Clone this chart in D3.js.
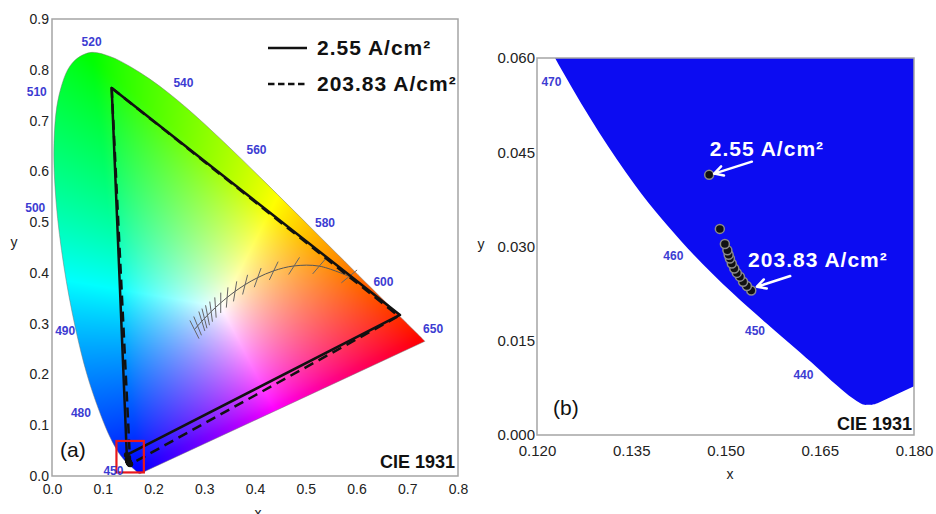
<!DOCTYPE html>
<html>
<head>
<meta charset="utf-8">
<script src="https://cdn.jsdelivr.net/npm/d3@7"></script>
<style>
  body { margin: 0; background: #fff; }
  text { font-family: "Liberation Sans", Arial, sans-serif; }
</style>
</head>
<body>
<svg id="chart" width="936" height="514"></svg>
<script>
// CIE 1931 spectral locus (nm, x, y)
var locusNm = [380, 385, 390, 395, 400, 405, 410, 415, 420, 425, 430, 435, 440, 445, 450, 455, 460, 465, 470, 475,
  480, 485, 490, 495, 500, 505, 510, 515, 520, 525, 530, 535, 540, 545, 550, 555, 560, 565, 570, 575,
  580, 585, 590, 595, 600, 605, 610, 615, 620, 625, 630, 635, 640, 645, 650, 655, 660, 665, 670, 680, 700];
var locusX = [0.1741, 0.1740, 0.1738, 0.1736, 0.1733, 0.1730, 0.1726, 0.1721, 0.1714, 0.1703, 0.1689, 0.1669, 0.1644, 0.1611, 0.1566, 0.1510, 0.1440, 0.1355, 0.1241, 0.1096,
  0.0913, 0.0687, 0.0454, 0.0235, 0.0082, 0.0039, 0.0139, 0.0389, 0.0743, 0.1142, 0.1547, 0.1929, 0.2296, 0.2658, 0.3016, 0.3373, 0.3731, 0.4087, 0.4441, 0.4788,
  0.5125, 0.5448, 0.5752, 0.6029, 0.6270, 0.6482, 0.6658, 0.6801, 0.6915, 0.7006, 0.7079, 0.7140, 0.7190, 0.7230, 0.7260, 0.7283, 0.7300, 0.7311, 0.7320, 0.7334, 0.7347];
var locusY = [0.0050, 0.0050, 0.0049, 0.0049, 0.0048, 0.0048, 0.0048, 0.0048, 0.0051, 0.0058, 0.0069, 0.0086, 0.0109, 0.0138, 0.0177, 0.0227, 0.0297, 0.0399, 0.0578, 0.0868,
  0.1327, 0.2007, 0.2950, 0.4127, 0.5384, 0.6548, 0.7502, 0.8120, 0.8338, 0.8262, 0.8059, 0.7816, 0.7543, 0.7243, 0.6923, 0.6589, 0.6245, 0.5896, 0.5547, 0.5202,
  0.4866, 0.4544, 0.4242, 0.3965, 0.3725, 0.3514, 0.3340, 0.3197, 0.3083, 0.2993, 0.2920, 0.2859, 0.2809, 0.2770, 0.2740, 0.2717, 0.2700, 0.2689, 0.2680, 0.2666, 0.2653];

// Planckian locus, temperatures in K
var planckT = [10000, 9000, 8000, 7500, 7000, 6500, 6000, 5500, 5000, 4500, 4000, 3500, 3000, 2500, 2000, 1500];
var planckX = [0.2807, 0.2869, 0.2952, 0.3004, 0.3064, 0.3135, 0.3221, 0.3325, 0.3451, 0.3608, 0.3805, 0.4053, 0.4369, 0.4770, 0.5267, 0.5857];
var planckY = [0.2884, 0.2956, 0.3048, 0.3103, 0.3166, 0.3237, 0.3318, 0.3411, 0.3516, 0.3636, 0.3768, 0.3907, 0.4041, 0.4137, 0.4133, 0.3931];
var isoCenter = [0.3320, 0.1858]; // McCamy epicenter

// wavelength labels: nm, label x, label y
var labelsA = [[520, 0.078, 0.856], [540, 0.259, 0.774], [560, 0.403, 0.642], [580, 0.538, 0.499], [600, 0.653, 0.383],
  [650, 0.751, 0.289], [510, -0.030, 0.756], [500, -0.033, 0.529], [490, 0.026, 0.286], [480, 0.057, 0.125], [450, 0.121, 0.010]];
var labelsB = [[470, 0.1223, 0.0562], [460, 0.1417, 0.0285], [450, 0.1547, 0.0166], [440, 0.1624, 0.0096]];

// gamut triangles (green, red, blue corner)
var gamutLow = [[0.1176, 0.764], [0.6857, 0.3172], [0.1474, 0.0414]];
var gamutHigh = [[0.1176, 0.764], [0.6830, 0.3150], [0.1541, 0.0230]];

// blue chromaticity with rising current density, 2.55 -> 203.83 A/cm2
var blueX = [0.1474, 0.1491, 0.1499, 0.1503, 0.1505, 0.1507, 0.1510, 0.1514, 0.1518, 0.1523, 0.1528, 0.1534, 0.1541];
var blueY = [0.0414, 0.0328, 0.0304, 0.0294, 0.0287, 0.0281, 0.0273, 0.0265, 0.0258, 0.0252, 0.0244, 0.0237, 0.0230];

var legendLabels = ["2.55 A/cm\u00b2", "203.83 A/cm\u00b2"];
var ticksA_x = [0, 0.1, 0.2, 0.3, 0.4, 0.5, 0.6, 0.7, 0.8];
var ticksA_y = [0, 0.1, 0.2, 0.3, 0.4, 0.5, 0.6, 0.7, 0.8, 0.9];
var ticksB_x = [0.120, 0.135, 0.150, 0.165, 0.180];
var ticksB_y = [0, 0.015, 0.030, 0.045, 0.060];

// primaries used to paint the diagram (red, green, blue corners of the locus)
var paintPrimaries = [[0.7347, 0.2653], [0.0743, 0.8338], [0.1666, 0.0089]];

var svg = d3.select("#chart");
var font = "'Liberation Sans', Arial, sans-serif";

// scales
var xA = d3.scaleLinear().domain([0, 0.8]).range([52, 458]);
var yA = d3.scaleLinear().domain([0, 0.9]).range([476, 19]);
var xB = d3.scaleLinear().domain([0.12, 0.18]).range([537, 914]);
var yB = d3.scaleLinear().domain([0, 0.06]).range([435, 58]);

var locus = locusX.map(function (d, i) { return [d, locusY[i]]; });

function locusPath(xs, ys) {
  return d3.line().curve(d3.curveCatmullRom.alpha(0.5))
    .x(function (d) { return xs(d[0]); }).y(function (d) { return ys(d[1]); })(locus) + "Z";
}

// 3x3 inverse
function inv3(m) {
  var a = m[0][0], b = m[0][1], c = m[0][2], d = m[1][0], e = m[1][1], f = m[1][2], g = m[2][0], h = m[2][1], k = m[2][2];
  var A = e * k - f * h, B = -(d * k - f * g), C = d * h - e * g;
  var det = a * A + b * B + c * C;
  return [[A / det, -(b * k - c * h) / det, (b * f - c * e) / det],
          [B / det, (a * k - c * g) / det, -(a * f - c * d) / det],
          [C / det, -(a * h - b * g) / det, (a * e - b * d) / det]];
}
function mul(m, v) {
  return [m[0][0] * v[0] + m[0][1] * v[1] + m[0][2] * v[2],
          m[1][0] * v[0] + m[1][1] * v[1] + m[1][2] * v[2],
          m[2][0] * v[0] + m[2][1] * v[1] + m[2][2] * v[2]];
}
// RGB->XYZ for the painting primaries, white point E
var P = [0, 1, 2].map(function (r) {
  return paintPrimaries.map(function (p) { return [p[0] / p[1], 1, (1 - p[0] - p[1]) / p[1]][r]; });
});
var S = mul(inv3(P), [1, 1, 1]);
var toRgb = inv3(P.map(function (row) { return row.map(function (v, i) { return v * S[i]; }); }));

function xyToRgb(x, y) {
  var c = mul(toRgb, [x / y, 1, (1 - x - y) / y]).map(function (v) { return Math.max(v, 0); });
  var m = Math.max(c[0], c[1], c[2]);
  return c.map(function (v) {
    v = Math.pow(v / m, 1.6);
    v = v <= 0.0031308 ? 12.92 * v : 1.055 * Math.pow(v, 1 / 2.4) - 0.055;
    return Math.round(Math.min(1, v) * 255);
  });
}

var defs = svg.append("defs");
defs.append("clipPath").attr("id", "clipLocusA").append("path").attr("d", locusPath(xA, yA));
defs.append("clipPath").attr("id", "clipBoxB").append("rect")
  .attr("x", xB.range()[0]).attr("y", yB.range()[1])
  .attr("width", xB.range()[1] - xB.range()[0]).attr("height", yB.range()[0] - yB.range()[1]);

// ---------- panel (a) ----------
var gA = svg.append("g");

// colour fill made on a canvas, clipped to the locus
var cw = Math.round(xA.range()[1] - xA.range()[0]);
var ch = Math.round(yA.range()[0] - yA.range()[1]);
var canvas = document.createElement("canvas");
canvas.width = cw; canvas.height = ch;
var ctx = canvas.getContext("2d");
var img = ctx.createImageData(cw, ch);
for (var j = 0; j < ch; j++) {
  for (var i = 0; i < cw; i++) {
    var cx = xA.invert(xA.range()[0] + i + 0.5);
    var cy = yA.invert(yA.range()[1] + j + 0.5);
    var k = (j * cw + i) * 4;
    if (cy <= 0.001) { img.data[k + 3] = 0; continue; }
    var c = xyToRgb(cx, cy);
    img.data[k] = c[0]; img.data[k + 1] = c[1]; img.data[k + 2] = c[2]; img.data[k + 3] = 255;
  }
}
ctx.putImageData(img, 0, 0);

gA.append("image")
  .attr("href", canvas.toDataURL())
  .attr("x", xA.range()[0]).attr("y", yA.range()[1])
  .attr("width", cw).attr("height", ch)
  .attr("clip-path", "url(#clipLocusA)");

gA.append("path")
  .attr("d", locusPath(xA, yA))
  .attr("fill", "none").attr("stroke", "#777").attr("stroke-width", 0.5);

// Planckian locus and isotherm ticks
var planck = planckX.map(function (d, i) { return [d, planckY[i]]; });
gA.append("path")
  .attr("d", d3.line().curve(d3.curveCatmullRom).x(function (d) { return xA(d[0]); }).y(function (d) { return yA(d[1]); })(planck))
  .attr("fill", "none").attr("stroke", "#555").attr("stroke-width", 1);

gA.selectAll(".iso").data(planck).enter().append("line")
  .attr("class", "iso")
  .each(function (d) {
    var dx = isoCenter[0] - d[0], dy = isoCenter[1] - d[1];
    var len = Math.sqrt(dx * dx + dy * dy), h = 0.02;
    d3.select(this)
      .attr("x1", xA(d[0] - dx / len * h)).attr("y1", yA(d[1] - dy / len * h))
      .attr("x2", xA(d[0] + dx / len * h)).attr("y2", yA(d[1] + dy / len * h));
  })
  .attr("stroke", "#666").attr("stroke-width", 1);

// gamut triangles
var triLine = d3.line().x(function (d) { return xA(d[0]); }).y(function (d) { return yA(d[1]); });
gA.append("path").attr("d", triLine(gamutHigh) + "Z")
  .attr("fill", "none").attr("stroke", "#111").attr("stroke-width", 2.5)
  .attr("stroke-dasharray", "10,6").attr("stroke-linejoin", "round");
gA.append("path").attr("d", triLine(gamutLow) + "Z")
  .attr("fill", "none").attr("stroke", "#111").attr("stroke-width", 2.5).attr("stroke-linejoin", "round");

gA.selectAll(".ptA").data(blueX).enter().append("circle")
  .attr("cx", function (d) { return xA(d); })
  .attr("cy", function (d, i) { return yA(blueY[i]); })
  .attr("r", 3).attr("fill", "#111");

// zoom box
gA.append("rect")
  .attr("x", xA(0.127)).attr("y", yA(0.069))
  .attr("width", xA(0.181) - xA(0.127)).attr("height", yA(0.007) - yA(0.069))
  .attr("fill", "none").attr("stroke", "#e8191c").attr("stroke-width", 2.2);

// wavelength labels
gA.selectAll(".wlA").data(labelsA).enter().append("text")
  .attr("x", function (d) { return xA(d[1]); })
  .attr("y", function (d) { return yA(d[2]); })
  .attr("dy", "0.35em").attr("text-anchor", "middle")
  .attr("font-size", 12).attr("font-weight", "bold").attr("fill", "#3c3cd2")
  .text(function (d) { return d[0]; });

// legend
var legend = gA.append("g");
legendLabels.forEach(function (t, i) {
  var ly = 48 + i * 36;
  legend.append("line").attr("x1", 268).attr("x2", 307).attr("y1", ly).attr("y2", ly)
    .attr("stroke", "#111").attr("stroke-width", 2.5)
    .attr("stroke-dasharray", i === 1 ? "6.5,3.5" : null);
  legend.append("text").attr("x", 317).attr("y", ly + 7)
    .attr("font-size", 21).attr("font-weight", "bold").attr("letter-spacing", 1)
    .attr("fill", "#111").text(t);
});

gA.append("text").attr("x", 60).attr("y", 457).attr("font-size", 21).attr("fill", "#111").text("(a)");
gA.append("text").attr("x", 455).attr("y", 468).attr("text-anchor", "end")
  .attr("font-size", 18).attr("font-weight", "bold").attr("fill", "#111").text("CIE 1931");

// frame and axes
gA.append("rect").attr("x", 52).attr("y", 19).attr("width", 406).attr("height", 457)
  .attr("fill", "none").attr("stroke", "#a5a5a5").attr("stroke-width", 1.5);

var axA_x = gA.append("g").attr("transform", "translate(0,476)")
  .call(d3.axisBottom(xA).tickValues(ticksA_x).tickFormat(d3.format(".1f")).tickSize(0).tickPadding(8));
var axA_y = gA.append("g").attr("transform", "translate(52,0)")
  .call(d3.axisLeft(yA).tickValues(ticksA_y).tickFormat(d3.format(".1f")).tickSize(0).tickPadding(3));
[axA_x, axA_y].forEach(function (a) {
  a.select(".domain").remove();
  a.selectAll("text").attr("font-size", 14).attr("font-family", font).attr("fill", "#222");
});
gA.append("text").attr("x", 14).attr("y", 247).attr("text-anchor", "middle").attr("font-size", 14).attr("fill", "#222").text("y");
gA.append("text").attr("x", 258).attr("y", 518).attr("text-anchor", "middle").attr("font-size", 14).attr("fill", "#222").text("x");

// ---------- panel (b) ----------
var gB = svg.append("g");
gB.append("g").attr("clip-path", "url(#clipBoxB)")
  .append("path").attr("d", locusPath(xB, yB)).attr("fill", "#0c0cf2");

gB.selectAll(".wlB").data(labelsB).enter().append("text")
  .attr("x", function (d) { return xB(d[1]); })
  .attr("y", function (d) { return yB(d[2]); })
  .attr("dy", "0.35em").attr("text-anchor", "middle")
  .attr("font-size", 12).attr("font-weight", "bold").attr("fill", "#3c3cd2")
  .text(function (d) { return d[0]; });

// points, drawn from high current back to low
var pts = blueX.map(function (d, i) { return [d, blueY[i]]; });
gB.selectAll(".ptB").data(pts.slice().reverse()).enter().append("circle")
  .attr("cx", function (d) { return xB(d[0]); })
  .attr("cy", function (d) { return yB(d[1]); })
  .attr("r", 4.5).attr("fill", "#111").attr("stroke", "#8a8a8a").attr("stroke-width", 1.5);

// arrows and labels
var arrowsB = [[0.1542, 0.0435, 0.1482, 0.0416], [0.1603, 0.0253, 0.1550, 0.0236]];
var annotB = [[0.1475, 0.0444], [0.1536, 0.0267]];
arrowsB.forEach(function (a) {
  var x1 = xB(a[0]), y1 = yB(a[1]), x2 = xB(a[2]), y2 = yB(a[3]);
  var ang = Math.atan2(y2 - y1, x2 - x1), hl = 10;
  var p = "M" + x1 + "," + y1 + "L" + x2 + "," + y2 +
    "M" + (x2 - hl * Math.cos(ang - 0.5)) + "," + (y2 - hl * Math.sin(ang - 0.5)) +
    "L" + x2 + "," + y2 +
    "L" + (x2 - hl * Math.cos(ang + 0.5)) + "," + (y2 - hl * Math.sin(ang + 0.5));
  gB.append("path").attr("d", p).attr("fill", "none").attr("stroke", "#fff")
    .attr("stroke-width", 2.5).attr("stroke-linecap", "round").attr("stroke-linejoin", "round");
});
gB.selectAll(".annB").data(annotB).enter().append("text")
  .attr("x", function (d) { return xB(d[0]); })
  .attr("y", function (d) { return yB(d[1]); })
  .attr("font-size", 21).attr("font-weight", "bold").attr("letter-spacing", 1).attr("fill", "#fff")
  .text(function (d, i) { return legendLabels[i]; });

gB.append("text").attr("x", 553).attr("y", 415).attr("font-size", 21).attr("fill", "#111").text("(b)");
gB.append("text").attr("x", 912).attr("y", 430).attr("text-anchor", "end")
  .attr("font-size", 18).attr("font-weight", "bold").attr("fill", "#111").text("CIE 1931");

gB.append("rect").attr("x", 537).attr("y", 58).attr("width", 377).attr("height", 377)
  .attr("fill", "none").attr("stroke", "#a5a5a5").attr("stroke-width", 1.5);

var axB_x = gB.append("g").attr("transform", "translate(0,435)")
  .call(d3.axisBottom(xB).tickValues(ticksB_x).tickFormat(d3.format(".3f")).tickSize(0).tickPadding(10));
var axB_y = gB.append("g").attr("transform", "translate(537,0)")
  .call(d3.axisLeft(yB).tickValues(ticksB_y).tickFormat(d3.format(".3f")).tickSize(0).tickPadding(2));
[axB_x, axB_y].forEach(function (a) {
  a.select(".domain").remove();
  a.selectAll("text").attr("font-size", 15).attr("font-family", font).attr("fill", "#222");
});
gB.append("text").attr("x", 481).attr("y", 249).attr("text-anchor", "middle").attr("font-size", 14).attr("fill", "#222").text("y");
gB.append("text").attr("x", 730).attr("y", 479).attr("text-anchor", "middle").attr("font-size", 14).attr("fill", "#222").text("x");
</script>
</body>
</html>
